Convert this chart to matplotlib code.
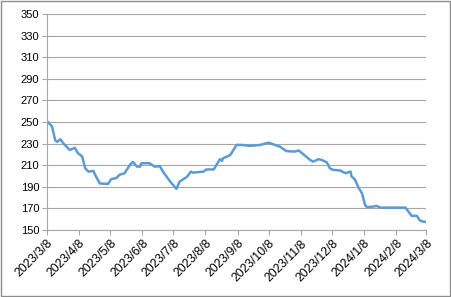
import numpy as np
import pandas as pd
import matplotlib
matplotlib.use("Agg")
import matplotlib.pyplot as plt
from matplotlib.patches import Rectangle

dates = ["2023-03-08", "2023-03-13", "2023-03-16", "2023-03-18", "2023-03-21", "2023-03-24",
         "2023-03-30", "2023-04-04", "2023-04-07", "2023-04-11", "2023-04-14", "2023-04-17",
         "2023-04-22", "2023-04-23", "2023-04-28", "2023-05-06", "2023-05-09", "2023-05-14",
         "2023-05-17", "2023-05-22", "2023-05-24", "2023-05-27", "2023-05-30", "2023-06-03",
         "2023-06-06", "2023-06-07", "2023-06-15", "2023-06-20", "2023-06-25", "2023-06-28",
         "2023-07-05", "2023-07-11", "2023-07-14", "2023-07-21", "2023-07-25", "2023-07-27",
         "2023-08-06", "2023-08-09", "2023-08-16", "2023-08-22", "2023-08-24", "2023-08-25",
         "2023-08-29", "2023-09-01", "2023-09-07", "2023-09-12", "2023-09-20", "2023-09-30",
         "2023-10-08", "2023-10-14", "2023-10-19", "2023-10-25", "2023-11-02", "2023-11-06",
         "2023-11-10", "2023-11-17", "2023-11-20", "2023-11-25", "2023-11-28", "2023-12-03",
         "2023-12-06", "2023-12-09", "2023-12-16", "2023-12-21", "2023-12-26", "2023-12-27",
         "2023-12-30", "2024-01-03", "2024-01-06", "2024-01-09", "2024-01-11", "2024-01-17",
         "2024-01-20", "2024-01-24", "2024-02-17", "2024-02-23", "2024-02-28", "2024-03-02",
         "2024-03-05", "2024-03-08"]
prices = [251, 245.7, 233, 231.5, 234, 230,
          224, 226, 221, 218, 207, 204,
          204.6, 202, 193, 192.6, 197, 198,
          201, 202.5, 205.6, 210, 213, 208.6,
          208.6, 211.7, 211.7, 208.6, 209, 204,
          194.7, 188, 194.7, 199, 204, 203,
          204, 206, 206, 215.5, 214, 216.4,
          218, 219.4, 228.7, 228.7, 227.8, 228.7,
          230.8, 228.7, 227, 223, 222.5, 223.5,
          220.4, 214.8, 213.2, 215.5, 214.8, 212.7,
          207.1, 205.6, 205, 202.5, 204, 199.4,
          197, 188.6, 184, 173, 171, 171.6,
          172.2, 170.6, 170.6, 163, 163, 158.6,
          157.7, 157.4]

tick_dates = ["2023-03-08", "2023-04-08", "2023-05-08", "2023-06-08", "2023-07-08",
              "2023-08-08", "2023-09-08", "2023-10-08", "2023-11-08", "2023-12-08",
              "2024-01-08", "2024-02-08", "2024-03-08"]
y_ticks = [150, 170, 190, 210, 230, 250, 270, 290, 310, 330, 350]

plt.rcParams["font.family"] = ["Liberation Sans", "DejaVu Sans"]

x = pd.to_datetime(dates)
xt = pd.to_datetime(tick_dates)

fig = plt.figure(figsize=(4.51, 2.97), dpi=100)
ax = fig.add_axes([0.104, 0.226, 0.841, 0.727])

ax.plot(x, prices, color="#5b9bd5", lw=1.8, solid_joinstyle="round")

ax.set_ylim(150, 350)
ax.set_yticks(y_ticks)
ax.set_xlim(xt[0], xt[-1])
ax.set_xticks(xt)
ax.set_xticklabels([f"{d.year}/{d.month}/{d.day}" for d in xt], rotation=45,
                   ha="right", va="top", rotation_mode="anchor", fontsize=8.7)
ax.yaxis.grid(True, color="#a6a6a6", lw=0.8)
ax.set_axisbelow(True)
for s in ["top", "right"]:
    ax.spines[s].set_visible(False)
for s in ["left", "bottom"]:
    ax.spines[s].set_color("#a6a6a6")
    ax.spines[s].set_linewidth(0.8)
ax.tick_params(axis="both", colors="#a6a6a6", length=3.5, width=0.8, labelsize=8,
               labelcolor="black", pad=2)
ax.tick_params(axis="x", labelsize=8.7)

fig.patches.append(Rectangle((0.002, 0.003), 0.995, 0.993, transform=fig.transFigure,
                             fill=False, edgecolor="#8c8c8c", lw=1))

fig.savefig("out.png", dpi=100)
